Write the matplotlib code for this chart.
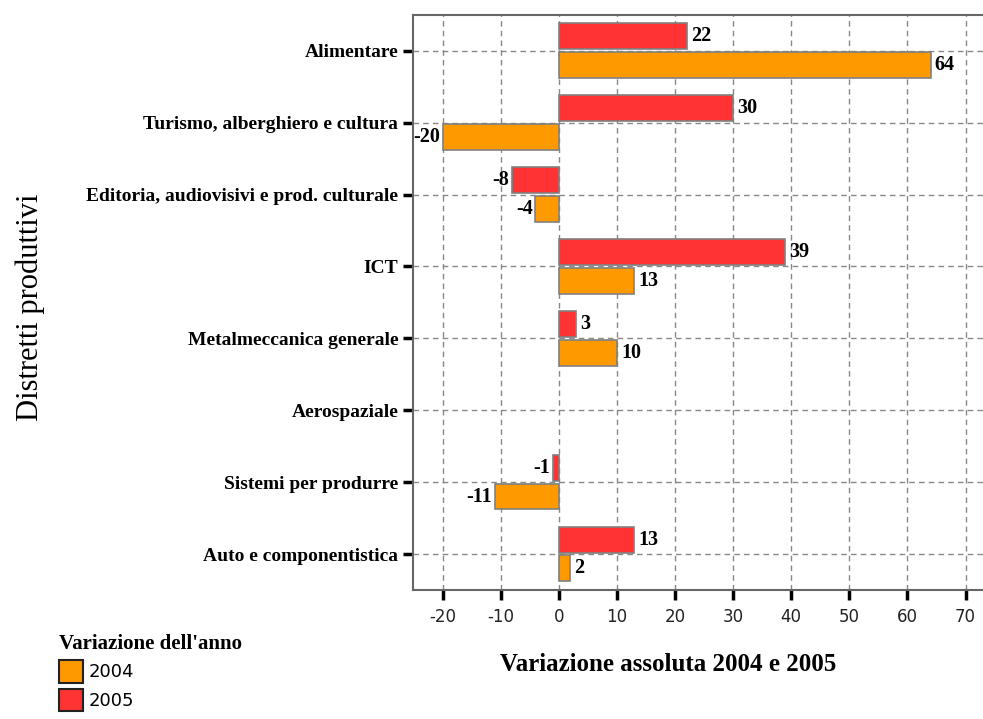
import numpy as np
import matplotlib.pyplot as plt
from matplotlib.patches import Patch

categories = ['Alimentare', 'Turismo, alberghiero e cultura',
              'Editoria, audiovisivi e prod. culturale', 'ICT',
              'Metalmeccanica generale', 'Aerospaziale',
              'Sistemi per produrre', 'Auto e componentistica']
val_2004 = [64, -20, -4, 13, 10, np.nan, -11, 2]
val_2005 = [22, 30, -8, 39, 3, np.nan, -1, 13]
xticks = [-20, -10, 0, 10, 20, 30, 40, 50, 60, 70]

col_2004 = '#FF9900'
col_2005 = '#FF3333'
serif = 'Liberation Serif'
sans = 'DejaVu Sans'

fig = plt.figure(figsize=(9.83, 7.19), dpi=100)
ax = fig.add_axes([0.42, 0.1794, 0.58, 0.8])

y = np.arange(len(categories))
h = 0.36
b05 = ax.barh(y - 0.2, val_2005, height=h, color=col_2005, edgecolor='#808080', linewidth=1.2, zorder=3)
b04 = ax.barh(y + 0.2, val_2004, height=h, color=col_2004, edgecolor='#808080', linewidth=1.2, zorder=3)

# value labels at the bar ends
for bars, vals in [(b05, val_2005), (b04, val_2004)]:
    for bar, v in zip(bars, vals):
        if np.isnan(v):
            continue
        yc = bar.get_y() + bar.get_height() / 2
        if v >= 0:
            ax.annotate(str(int(v)), (v, yc), xytext=(3, 0), textcoords='offset points',
                        ha='left', va='center', fontsize=14.5, fontweight='bold', family=serif, zorder=4)
        else:
            ax.annotate(str(int(v)), (v, yc), xytext=(-2, 0), textcoords='offset points',
                        ha='right', va='center', fontsize=14.5, fontweight='bold', family=serif, zorder=4)

ax.set_xlim(-25.1, 73)
ax.set_ylim(len(categories) - 0.5, -0.5)
ax.set_xticks(xticks)
ax.set_xticklabels([str(t) for t in xticks], fontsize=12, family=sans, color='#222222')
ax.set_yticks(y)
ax.set_yticklabels(categories, fontsize=14, fontweight='bold', family=serif)
ax.tick_params(axis='both', direction='out', length=7, width=2.5, color='black')
ax.tick_params(axis='x', pad=6)
ax.grid(True, linestyle=(0, (4, 3)), color='#888888', linewidth=1, zorder=0)
for side in ['left', 'top', 'bottom']:
    ax.spines[side].set_color('#666666')
    ax.spines[side].set_linewidth(1.5)
ax.spines['right'].set_visible(False)

ax.set_xlabel('Variazione assoluta 2004 e 2005', fontsize=18, family=serif, fontweight='bold')
ax.xaxis.set_label_coords(0.447, -0.11)
fig.text(0.031, 0.572, 'Distretti produttivi', rotation=90, fontsize=22, family=serif,
         ha='center', va='center')

handles = [Patch(facecolor=col_2004, edgecolor='#222222', linewidth=1.5, label='2004'),
           Patch(facecolor=col_2005, edgecolor='#222222', linewidth=1.5, label='2005')]
leg = fig.legend(handles=handles, loc='upper left', bbox_to_anchor=(0.06, 0.118),
                 title="Variazione dell'anno", frameon=False, alignment='left',
                 prop={'family': sans, 'size': 13}, handlelength=1.35, handleheight=1.5,
                 handletextpad=0.3, labelspacing=0.35, borderpad=0, borderaxespad=0)
leg.get_title().set_fontfamily(serif)
leg.get_title().set_fontweight('bold')
leg.get_title().set_fontsize(15)

fig.savefig('out.png', dpi=100)
